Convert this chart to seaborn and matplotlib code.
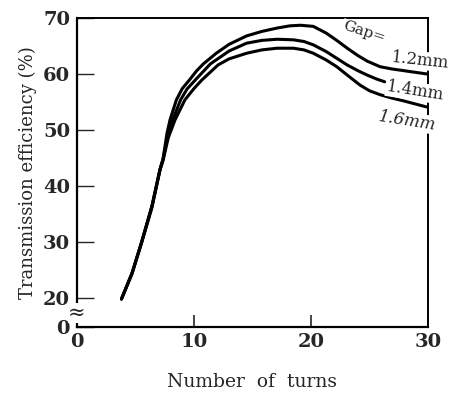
import numpy as np
import pandas as pd
import seaborn as sns
import matplotlib.pyplot as plt

############# Data #####################################
########################################################
gap_labels = ['1.2 mm', '1.4 mm', '1.6 mm']

turns_12 = [3.8, 4.7, 5.5, 6.4, 7.1, 7.35, 7.7, 7.95, 8.5, 9.0, 9.6, 10.2, 10.8, 11.9, 13.0, 14.5, 15.8, 17.1, 18.2, 19.1, 20.2, 21.3, 22.2, 23.1, 24.0, 24.8, 25.9, 26.9, 27.9, 29.9]
eff_12 = [19.8, 24.4, 29.8, 36.4, 43.0, 44.8, 49.5, 51.8, 55.4, 57.4, 58.9, 60.5, 61.8, 63.7, 65.3, 66.8, 67.6, 68.2, 68.6, 68.7, 68.5, 67.3, 66.0, 64.6, 63.3, 62.3, 61.3, 60.9, 60.6, 60.0]

turns_14 = [3.8, 4.7, 5.5, 6.4, 7.1, 7.35, 7.75, 8.18, 8.86, 9.4, 10.1, 11.4, 13.0, 14.5, 15.8, 17.1, 18.5, 19.4, 20.2, 21.3, 22.2, 23.1, 24.0, 24.8, 25.6, 26.3]
eff_14 = [19.8, 24.4, 29.8, 36.3, 43.0, 44.7, 49.0, 51.8, 55.4, 57.3, 58.9, 61.8, 64.1, 65.5, 66.0, 66.2, 66.1, 65.8, 65.2, 64.0, 62.8, 61.6, 60.6, 59.8, 59.1, 58.6]

turns_16 = [3.8, 4.7, 5.5, 6.4, 7.1, 7.35, 7.8, 8.38, 9.23, 10.0, 10.66, 12.05, 13.0, 14.5, 15.8, 17.1, 18.5, 19.4, 20.2, 21.3, 22.2, 23.1, 24.2, 25.0, 25.9, 26.9, 27.9, 29.9]
eff_16 = [19.8, 24.3, 29.7, 36.1, 42.9, 44.5, 48.6, 51.8, 55.4, 57.4, 58.9, 61.6, 62.7, 63.7, 64.3, 64.6, 64.6, 64.3, 63.7, 62.5, 61.3, 59.8, 58.0, 57.0, 56.3, 55.7, 55.2, 54.1]

x_ticks = [0, 10, 20, 30]
y_ticks = [14.8, 20, 30, 40, 50, 60, 70]   # bottom tick is the broken-axis zero
y_tick_labels = ['0', '20', '30', '40', '50', '60', '70']

df = pd.concat([
    pd.DataFrame({'turns': turns_12, 'eff': eff_12, 'gap': gap_labels[0]}),
    pd.DataFrame({'turns': turns_14, 'eff': eff_14, 'gap': gap_labels[1]}),
    pd.DataFrame({'turns': turns_16, 'eff': eff_16, 'gap': gap_labels[2]}),
])

############# Plot ######################################
########################################################
sns.set_style('ticks')
plt.rcParams['font.family'] = ['DejaVu Serif', 'DejaVu Sans']

fig = plt.figure(figsize=(4.57, 3.97), dpi=100)
ax = fig.add_axes([0.1685, 0.1763, 0.768, 0.7784])

sns.lineplot(data=df, x='turns', y='eff', hue='gap', units='gap', estimator=None,
             sort=False, palette=['black'] * 3, linewidth=2.2, legend=False, ax=ax)

ax.set_xlim(0, 30)
ax.set_ylim(14.8, 70)
ax.set_xticks(x_ticks)
ax.set_xticklabels([str(t) for t in x_ticks], fontsize=14, fontweight='bold')
ax.set_yticks(y_ticks)
ax.set_yticklabels(y_tick_labels, fontsize=14, fontweight='bold')
ax.tick_params(axis='y', direction='in', length=12, width=1.0, pad=5)
ax.tick_params(axis='x', direction='in', length=8.5, width=1.2, pad=4)

for side in ['left', 'bottom', 'top', 'right']:
    ax.spines[side].set_visible(True)
    ax.spines[side].set_color('black')
ax.spines['left'].set_linewidth(1.6)
ax.spines['bottom'].set_linewidth(1.6)
ax.spines['top'].set_linewidth(1.4)
ax.spines['right'].set_linewidth(1.4)

ax.set_xlabel('Number  of  turns', fontsize=13.5, labelpad=16)
ax.set_ylabel('Transmission efficiency (%)', fontsize=13, labelpad=4)

# axis break mark
ax.text(0, 17.3, '≈', fontsize=15, ha='center', va='center',
        bbox=dict(facecolor='white', edgecolor='none', pad=0.1), clip_on=False)

# curve labels
box = dict(facecolor='white', edgecolor='none', pad=0.5)
ax.text(24.5, 67.4, 'Gap=', fontsize=11, rotation=-18, ha='center', va='center', bbox=box)
ax.text(29.3, 62.4, '1.2mm', fontsize=12, rotation=-6, ha='center', va='center', bbox=box, clip_on=False)
ax.text(28.9, 56.9, '1.4mm', fontsize=12, rotation=-9, ha='center', va='center', bbox=box, clip_on=False)
ax.text(28.2, 51.6, '1.6mm', fontsize=12, rotation=-9, ha='center', va='center', bbox=box, clip_on=False, style='italic')

fig.savefig('out.png', dpi=100)
